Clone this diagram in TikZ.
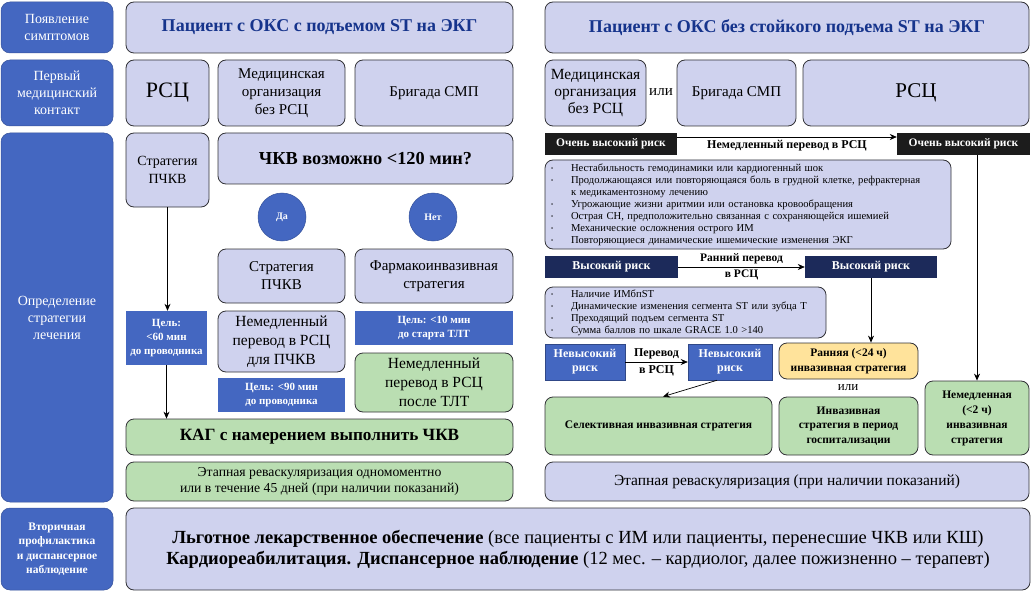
\documentclass[tikz,border=0pt]{standalone}
\usepackage{fontspec}
\setmainfont{Liberation Serif}
\usepackage{tikz}
\usetikzlibrary{calc,arrows.meta}
\definecolor{clab}{RGB}{68,103,193}
\definecolor{clav}{RGB}{207,210,238}
\definecolor{cgrn}{RGB}{186,222,178}
\definecolor{cylw}{RGB}{255,227,155}
\definecolor{cnavy}{RGB}{28,42,90}
\definecolor{cblack}{RGB}{28,28,28}
\definecolor{chead}{RGB}{22,52,140}
\definecolor{cedge}{RGB}{50,50,55}
\newcommand\fsz[2]{\fontsize{#1}{#2}\selectfont}
\def\panel[#1](#2)(#3,#4)(#5,#6)#7{\node[#1, minimum width={#5-#3}, minimum height={#6-#4}] (#2) at ({(#3+#5)/2},{(#4+#6)/2}) {#7};}
\def\itm#1{\makebox[20pt][l]{\raisebox{1pt}{\fsz{6}{6}\textbullet}}#1}
\tikzset{
	lbl/.style={fill=clab, draw=clab!80!black, line width=0.5pt, rounded corners=9pt, text=white, align=center, inner sep=0pt, font=\fsz{14}{17}},
	lav/.style={fill=clav, draw=cedge, line width=0.8pt, rounded corners=8pt, align=center, inner sep=0pt, font=\fsz{15}{18}},
	grn/.style={lav, fill=cgrn},
	ylw/.style={lav, fill=cylw},
	head/.style={font=\fsz{18}{22}\bfseries, text=chead},
	bld/.style={font=\fsz{11.5}{14.5}\bfseries},
	lst/.style={lav, align=left, inner xsep=6pt, inner ysep=0pt, font=\fsz{10.6}{12}},
	goal/.style={fill=clab, text=white, align=center, inner sep=0pt, font=\fsz{11}{14}\bfseries},
	blk/.style={fill=cblack, text=white, inner sep=0pt, font=\fsz{11.5}{14}\bfseries},
	hibox/.style={fill=cnavy, text=white, inner sep=0pt, font=\fsz{12}{14}\bfseries},
	nrisk/.style={fill=clab, draw=clab!70!black, line width=0.5pt, text=white, align=center, inner sep=0pt, font=\fsz{12}{14}\bfseries},
	yesno/.style={circle, fill=clab, draw=clab!80!black, line width=0.5pt, text=white, inner sep=0pt, minimum size=48pt, font=\fsz{10}{12}\bfseries},
	arr/.style={-{Stealth[length=7pt,width=6pt]}, line width=0.7pt, draw=black},
	tag/.style={font=\fsz{11.5}{14}\bfseries, inner sep=3pt}
}
\begin{document}
\begin{tikzpicture}[x=1pt, y=-1pt]
		%%%%% START %%%%%
		\useasboundingbox (0,0) rectangle (1035,596);
		
		\panel[lbl](symp)(1,2)(113,53){Появление\\симптомов}
		\panel[lbl](contact)(1,60)(113,126){Первый\\медицинский\\контакт}
		\panel[lbl](strategy)(1,133)(113,502){Определение\\стратегии\\лечения}
		\panel[lbl, font=\fsz{11.5}{14.5}\bfseries](prevent)(1,508)(113,590){Вторичная\\профилактика\\и диспансерное\\наблюдение}
		
		%% with ST elevation
		\panel[lav, head](stemi)(126,2)(513,53){Пациент с ОКС с подъемом ST на ЭКГ}
		\panel[lav, font=\fsz{22}{26}](rscA)(126,60)(209,126){РСЦ}
		\panel[lav](moA)(218,60)(345,126){Медицинская\\организация\\без РСЦ}
		\panel[lav](smpA)(355,60)(513,126){Бригада СМП}
		\panel[lav, font=\fsz{14}{18}](pciA)(126,133)(209,207){Стратегия\\ПЧКВ}
		\panel[lav, font=\fsz{18.3}{22}\bfseries](q120)(218,133)(513,184){ЧКВ возможно <120 мин?}
		\node[yesno] (yes) at (282,217) {Да};
		\node[yesno] (no) at (433,217) {Нет};
		\panel[lav](pciB)(218,249)(345,303){Стратегия\\ПЧКВ}
		\panel[lav](pharm)(355,249)(513,303){Фармакоинвазивная\\стратегия}
		\panel[goal](goalA)(126,311)(207,365){Цель:\\<60 мин\\до проводника}
		\panel[lav, font=\fsz{15.5}{19}](moveA)(218,311)(345,372){Немедленный\\перевод в РСЦ\\для ПЧКВ}
		\panel[goal](goalB)(218,378)(345,412){Цель: <90 мин\\до проводника}
		\panel[goal](goalC)(355,311)(513,345){Цель: <10 мин\\до старта ТЛТ}
		\panel[grn, font=\fsz{15.5}{19}](moveB)(355,353)(513,412){Немедленный\\перевод в РСЦ\\после ТЛТ}
		\panel[grn, font=\fsz{17.2}{21}\bfseries](kag)(126,419)(513,455){КАГ с намерением выполнить ЧКВ}
		\panel[grn, font=\fsz{13.7}{16}](stageA)(126,462)(513,501){Этапная реваскуляризация одномоментно\\или в течение 45 дней (при наличии показаний)}
		
		\draw[arr] (pciA.south) -- (pciA.south |- goalA.north);
		\draw[arr] (goalA.south) -- (goalA.south |- kag.north);
		
		%% without ST elevation
		\panel[lav, head](nstemi)(545,2)(1029,53){Пациент с ОКС без стойкого подъема ST на ЭКГ}
		\panel[lav, font=\fsz{15.5}{17}](moB)(545,60)(646,126){Медицинская\\организация\\без РСЦ}
		\node[font=\fsz{15}{18}] (orA) at (661,92) {или};
		\panel[lav](smpB)(677,60)(796,126){Бригада СМП}
		\panel[lav, font=\fsz{21}{25}](rscB)(803,60)(1029,126){РСЦ}
		
		\panel[blk](vhrA)(545,133)(677,155){Очень высокий риск}
		\panel[blk](vhrB)(897,133)(1030,155){Очень высокий риск}
		\draw[arr] ([yshift=7pt]vhrA.east) -- ([yshift=7pt]vhrB.west) node[midway, below, tag, font=\fsz{12}{14}\bfseries] {Немедленный перевод в РСЦ};
		
		\panel[lst, text width=394pt](vhrlist)(545,160)(951,249){%
			\itm{Нестабильность гемодинамики или кардиогенный шок}\\
			\itm{Продолжающаяся или повторяющаяся боль в грудной клетке, рефрактерная}\\
			\hspace*{20pt}к медикаментозному лечению\\
			\itm{Угрожающие жизни аритмии или остановка кровообращения}\\
			\itm{Острая СН, предположительно связанная с сохраняющейся ишемией}\\
			\itm{Механические осложнения острого ИМ}\\
			\itm{Повторяющиеся динамические ишемические изменения ЭКГ}}
		
		\panel[hibox](hrA)(545,256)(678,278){Высокий риск}
		\panel[hibox](hrB)(805,256)(937,278){Высокий риск}
		\draw[arr] (hrA) -- (hrB) node[midway, above, tag] {Ранний перевод} node[midway, below, tag] {в РСЦ};
		
		\panel[lst, text width=269pt](hrlist)(545,287)(826,338){%
			\itm{Наличие ИМбпST}\\
			\itm{Динамические изменения сегмента ST или зубца T}\\
			\itm{Преходящий подъем сегмента ST}\\
			\itm{Сумма баллов по шкале GRACE 1.0 >140}}
		
		\panel[nrisk](nrA)(545,344)(625,380){Невысокий\\риск}
		\panel[nrisk](nrB)(688,344)(772,380){Невысокий\\риск}
		\draw[arr] (nrA) -- (nrB) node[midway, above, tag, font=\fsz{12}{14}\bfseries] {Перевод} node[midway, below, tag, font=\fsz{12}{14}\bfseries] {в РСЦ};
		
		\panel[ylw, bld](early)(779,343)(918,379){Ранняя (<24 ч)\\инвазивная стратегия}
		\node[font=\fsz{13}{15}] (orB) at (848,388) {или};
		\panel[grn, bld](select)(545,397)(772,455){Селективная инвазивная стратегия}
		\panel[grn, bld](hosp)(779,397)(918,455){Инвазивная\\стратегия в период\\госпитализации}
		\panel[grn, bld, font=\fsz{11.5}{15}\bfseries](urgent)(925,381)(1029,455){Немедленная\\(<2 ч)\\инвазивная\\стратегия}
		\panel[lav, font=\fsz{15.5}{18}](stageB)(545,462)(1029,501){Этапная реваскуляризация (при наличии показаний)}
		
		\draw[arr] (hrB.south) -- (hrB.south |- early.north);
		\draw[arr] (vhrB.south -| urgent.north) -- (urgent.north);
		\draw[arr] ([xshift=-13pt]nrB.south) -- ([xshift=4.5pt]select.north);
		
		%% follow-up
		\panel[lav, font=\fsz{18.5}{21}](care)(126,508)(1030,590){\textbf{Льготное лекарственное обеспечение} (все пациенты с ИМ или пациенты, перенесшие ЧКВ или КШ)\\\textbf{Кардиореабилитация. Диспансерное наблюдение} (12 мес. – кардиолог, далее пожизненно – терапевт)}
		
		%%%%% END %%%%%
\end{tikzpicture}
\end{document}
